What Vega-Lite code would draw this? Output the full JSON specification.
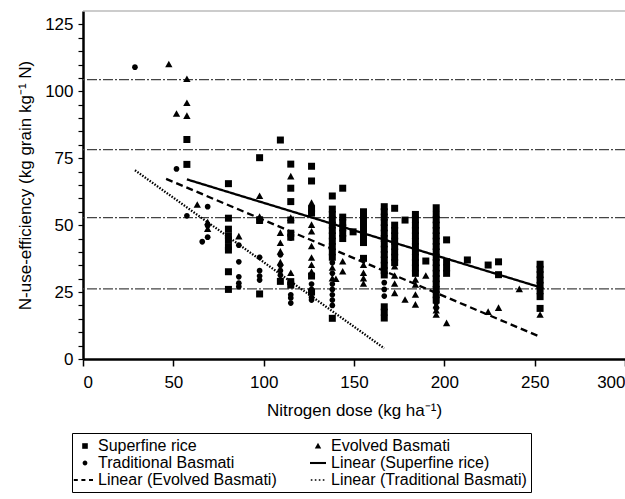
{
 "$schema": "https://vega.github.io/schema/vega-lite/v6.json",
 "width": 542,
 "height": 348,
 "autosize": {"type": "none"},
 "padding": {"left": 83, "top": 11, "right": 0, "bottom": 140},
 "background": "white",
 "config": {
  "view": {"stroke": null},
  "font": "Liberation Sans",
  "axis": {"domainColor": "black", "tickColor": "black", "labelColor": "black", "titleColor": "black", "grid": false,
   "labelFont": "Liberation Sans", "titleFont": "Liberation Sans", "labelFontSize": 17, "titleFontSize": 17, "titleFontWeight": "normal"},
  "axisY": {"labelOverlap": false}
 },
 "datasets": {
  "grid": [{"nue": 26.2}, {"nue": 52.8}, {"nue": 78.2}, {"nue": 104.4}],
  "top": [{"nue": 130}],
  "fits": [
   {"variety": "Linear (Superfine rice)", "dose": 57.5, "nue": 67.1},
   {"variety": "Linear (Superfine rice)", "dose": 253, "nue": 26.8},
   {"variety": "Linear (Evolved Basmati)", "dose": 46, "nue": 67.3},
   {"variety": "Linear (Evolved Basmati)", "dose": 253, "nue": 8.3},
   {"variety": "Linear (Traditional Basmati)", "dose": 28.75, "nue": 70.5},
   {"variety": "Linear (Traditional Basmati)", "dose": 166.75, "nue": 4}
  ],
  "pts": [
   {"variety": "Superfine rice", "dose": 57.5, "nue": 82},
   {"variety": "Superfine rice", "dose": 57.5, "nue": 72.7},
   {"variety": "Superfine rice", "dose": 80.5, "nue": 65.5},
   {"variety": "Superfine rice", "dose": 80.5, "nue": 52.6},
   {"variety": "Superfine rice", "dose": 80.5, "nue": 48.5},
   {"variety": "Superfine rice", "dose": 80.5, "nue": 46},
   {"variety": "Superfine rice", "dose": 80.5, "nue": 44.5},
   {"variety": "Superfine rice", "dose": 80.5, "nue": 42},
   {"variety": "Superfine rice", "dose": 80.5, "nue": 40.7},
   {"variety": "Superfine rice", "dose": 80.5, "nue": 32.6},
   {"variety": "Superfine rice", "dose": 80.5, "nue": 26},
   {"variety": "Superfine rice", "dose": 97.75, "nue": 75.2},
   {"variety": "Superfine rice", "dose": 97.75, "nue": 52},
   {"variety": "Superfine rice", "dose": 97.75, "nue": 24.3},
   {"variety": "Superfine rice", "dose": 109.25, "nue": 81.8},
   {"variety": "Superfine rice", "dose": 109.25, "nue": 29},
   {"variety": "Superfine rice", "dose": 115, "nue": 72.8},
   {"variety": "Superfine rice", "dose": 115, "nue": 63.8},
   {"variety": "Superfine rice", "dose": 115, "nue": 58.8},
   {"variety": "Superfine rice", "dose": 115, "nue": 51.9},
   {"variety": "Superfine rice", "dose": 115, "nue": 47},
   {"variety": "Superfine rice", "dose": 115, "nue": 45.5},
   {"variety": "Superfine rice", "dose": 115, "nue": 28.9},
   {"variety": "Superfine rice", "dose": 115, "nue": 27.6},
   {"variety": "Superfine rice", "dose": 126.5, "nue": 72},
   {"variety": "Superfine rice", "dose": 126.5, "nue": 66.5},
   {"variety": "Superfine rice", "dose": 126.5, "nue": 56},
   {"variety": "Superfine rice", "dose": 126.5, "nue": 54.5},
   {"variety": "Superfine rice", "dose": 126.5, "nue": 31},
   {"variety": "Superfine rice", "dose": 126.5, "nue": 25},
   {"variety": "Superfine rice", "dose": 138, "nue": 60.9},
   {"variety": "Superfine rice", "dose": 138, "nue": 56},
   {"variety": "Superfine rice", "dose": 138, "nue": 54},
   {"variety": "Superfine rice", "dose": 138, "nue": 52},
   {"variety": "Superfine rice", "dose": 138, "nue": 50},
   {"variety": "Superfine rice", "dose": 138, "nue": 48},
   {"variety": "Superfine rice", "dose": 138, "nue": 46},
   {"variety": "Superfine rice", "dose": 138, "nue": 44},
   {"variety": "Superfine rice", "dose": 138, "nue": 42},
   {"variety": "Superfine rice", "dose": 138, "nue": 40},
   {"variety": "Superfine rice", "dose": 138, "nue": 38},
   {"variety": "Superfine rice", "dose": 138, "nue": 15.2},
   {"variety": "Superfine rice", "dose": 143.75, "nue": 63.8},
   {"variety": "Superfine rice", "dose": 143.75, "nue": 53},
   {"variety": "Superfine rice", "dose": 143.75, "nue": 51},
   {"variety": "Superfine rice", "dose": 143.75, "nue": 49},
   {"variety": "Superfine rice", "dose": 143.75, "nue": 47},
   {"variety": "Superfine rice", "dose": 143.75, "nue": 45},
   {"variety": "Superfine rice", "dose": 149.5, "nue": 47.5},
   {"variety": "Superfine rice", "dose": 155.25, "nue": 55},
   {"variety": "Superfine rice", "dose": 155.25, "nue": 53},
   {"variety": "Superfine rice", "dose": 155.25, "nue": 51},
   {"variety": "Superfine rice", "dose": 155.25, "nue": 49},
   {"variety": "Superfine rice", "dose": 155.25, "nue": 47},
   {"variety": "Superfine rice", "dose": 155.25, "nue": 45},
   {"variety": "Superfine rice", "dose": 155.25, "nue": 43.5},
   {"variety": "Superfine rice", "dose": 155.25, "nue": 37.6},
   {"variety": "Superfine rice", "dose": 166.75, "nue": 56.9},
   {"variety": "Superfine rice", "dose": 166.75, "nue": 55},
   {"variety": "Superfine rice", "dose": 166.75, "nue": 53},
   {"variety": "Superfine rice", "dose": 166.75, "nue": 51},
   {"variety": "Superfine rice", "dose": 166.75, "nue": 49},
   {"variety": "Superfine rice", "dose": 166.75, "nue": 47},
   {"variety": "Superfine rice", "dose": 166.75, "nue": 45},
   {"variety": "Superfine rice", "dose": 166.75, "nue": 43},
   {"variety": "Superfine rice", "dose": 166.75, "nue": 41},
   {"variety": "Superfine rice", "dose": 166.75, "nue": 39},
   {"variety": "Superfine rice", "dose": 166.75, "nue": 37},
   {"variety": "Superfine rice", "dose": 166.75, "nue": 35},
   {"variety": "Superfine rice", "dose": 166.75, "nue": 33},
   {"variety": "Superfine rice", "dose": 166.75, "nue": 31.4},
   {"variety": "Superfine rice", "dose": 166.75, "nue": 19.5},
   {"variety": "Superfine rice", "dose": 166.75, "nue": 17.5},
   {"variety": "Superfine rice", "dose": 166.75, "nue": 15.3},
   {"variety": "Superfine rice", "dose": 172.5, "nue": 56.3},
   {"variety": "Superfine rice", "dose": 172.5, "nue": 50},
   {"variety": "Superfine rice", "dose": 172.5, "nue": 48},
   {"variety": "Superfine rice", "dose": 172.5, "nue": 46},
   {"variety": "Superfine rice", "dose": 172.5, "nue": 44},
   {"variety": "Superfine rice", "dose": 172.5, "nue": 42},
   {"variety": "Superfine rice", "dose": 172.5, "nue": 40},
   {"variety": "Superfine rice", "dose": 172.5, "nue": 38},
   {"variety": "Superfine rice", "dose": 172.5, "nue": 36},
   {"variety": "Superfine rice", "dose": 178.25, "nue": 51.9},
   {"variety": "Superfine rice", "dose": 184, "nue": 54},
   {"variety": "Superfine rice", "dose": 184, "nue": 52},
   {"variety": "Superfine rice", "dose": 184, "nue": 50},
   {"variety": "Superfine rice", "dose": 184, "nue": 48},
   {"variety": "Superfine rice", "dose": 184, "nue": 46},
   {"variety": "Superfine rice", "dose": 184, "nue": 44},
   {"variety": "Superfine rice", "dose": 184, "nue": 42},
   {"variety": "Superfine rice", "dose": 184, "nue": 40},
   {"variety": "Superfine rice", "dose": 184, "nue": 38},
   {"variety": "Superfine rice", "dose": 184, "nue": 36},
   {"variety": "Superfine rice", "dose": 184, "nue": 34},
   {"variety": "Superfine rice", "dose": 184, "nue": 32},
   {"variety": "Superfine rice", "dose": 189.75, "nue": 36.6},
   {"variety": "Superfine rice", "dose": 195.5, "nue": 56.5},
   {"variety": "Superfine rice", "dose": 195.5, "nue": 54},
   {"variety": "Superfine rice", "dose": 195.5, "nue": 52},
   {"variety": "Superfine rice", "dose": 195.5, "nue": 50},
   {"variety": "Superfine rice", "dose": 195.5, "nue": 48},
   {"variety": "Superfine rice", "dose": 195.5, "nue": 46},
   {"variety": "Superfine rice", "dose": 195.5, "nue": 44},
   {"variety": "Superfine rice", "dose": 195.5, "nue": 42},
   {"variety": "Superfine rice", "dose": 195.5, "nue": 40},
   {"variety": "Superfine rice", "dose": 195.5, "nue": 38},
   {"variety": "Superfine rice", "dose": 195.5, "nue": 36},
   {"variety": "Superfine rice", "dose": 195.5, "nue": 34},
   {"variety": "Superfine rice", "dose": 195.5, "nue": 32},
   {"variety": "Superfine rice", "dose": 195.5, "nue": 30},
   {"variety": "Superfine rice", "dose": 195.5, "nue": 28},
   {"variety": "Superfine rice", "dose": 195.5, "nue": 26},
   {"variety": "Superfine rice", "dose": 195.5, "nue": 24},
   {"variety": "Superfine rice", "dose": 195.5, "nue": 22},
   {"variety": "Superfine rice", "dose": 201.25, "nue": 44.5},
   {"variety": "Superfine rice", "dose": 201.25, "nue": 36.3},
   {"variety": "Superfine rice", "dose": 201.25, "nue": 34},
   {"variety": "Superfine rice", "dose": 201.25, "nue": 32},
   {"variety": "Superfine rice", "dose": 212.75, "nue": 37},
   {"variety": "Superfine rice", "dose": 224.25, "nue": 35.1},
   {"variety": "Superfine rice", "dose": 230, "nue": 36.3},
   {"variety": "Superfine rice", "dose": 230, "nue": 31.5},
   {"variety": "Superfine rice", "dose": 253, "nue": 35.4},
   {"variety": "Superfine rice", "dose": 253, "nue": 33.5},
   {"variety": "Superfine rice", "dose": 253, "nue": 31.5},
   {"variety": "Superfine rice", "dose": 253, "nue": 29.5},
   {"variety": "Superfine rice", "dose": 253, "nue": 27.5},
   {"variety": "Superfine rice", "dose": 253, "nue": 25.5},
   {"variety": "Superfine rice", "dose": 253, "nue": 23.3},
   {"variety": "Superfine rice", "dose": 253, "nue": 18.9},
   {"variety": "Evolved Basmati", "dose": 47.5, "nue": 110},
   {"variety": "Evolved Basmati", "dose": 51.75, "nue": 91.5},
   {"variety": "Evolved Basmati", "dose": 57.5, "nue": 104.5},
   {"variety": "Evolved Basmati", "dose": 57.5, "nue": 95.5},
   {"variety": "Evolved Basmati", "dose": 57.5, "nue": 90.7},
   {"variety": "Evolved Basmati", "dose": 63.25, "nue": 57.5},
   {"variety": "Evolved Basmati", "dose": 69, "nue": 51},
   {"variety": "Evolved Basmati", "dose": 69, "nue": 48.5},
   {"variety": "Evolved Basmati", "dose": 86.25, "nue": 45.7},
   {"variety": "Evolved Basmati", "dose": 97.75, "nue": 60.8},
   {"variety": "Evolved Basmati", "dose": 97.75, "nue": 53},
   {"variety": "Evolved Basmati", "dose": 97.75, "nue": 51.5},
   {"variety": "Evolved Basmati", "dose": 109.25, "nue": 47},
   {"variety": "Evolved Basmati", "dose": 109.25, "nue": 43.2},
   {"variety": "Evolved Basmati", "dose": 109.25, "nue": 40},
   {"variety": "Evolved Basmati", "dose": 109.25, "nue": 36},
   {"variety": "Evolved Basmati", "dose": 115, "nue": 68.1},
   {"variety": "Evolved Basmati", "dose": 115, "nue": 52.6},
   {"variety": "Evolved Basmati", "dose": 115, "nue": 32},
   {"variety": "Evolved Basmati", "dose": 126.5, "nue": 58.2},
   {"variety": "Evolved Basmati", "dose": 126.5, "nue": 50},
   {"variety": "Evolved Basmati", "dose": 126.5, "nue": 47.5},
   {"variety": "Evolved Basmati", "dose": 126.5, "nue": 42},
   {"variety": "Evolved Basmati", "dose": 126.5, "nue": 37.7},
   {"variety": "Evolved Basmati", "dose": 126.5, "nue": 35},
   {"variety": "Evolved Basmati", "dose": 126.5, "nue": 32.5},
   {"variety": "Evolved Basmati", "dose": 138, "nue": 34},
   {"variety": "Evolved Basmati", "dose": 138, "nue": 30},
   {"variety": "Evolved Basmati", "dose": 140, "nue": 29.8},
   {"variety": "Evolved Basmati", "dose": 143.75, "nue": 36.3},
   {"variety": "Evolved Basmati", "dose": 143.75, "nue": 32.6},
   {"variety": "Evolved Basmati", "dose": 155.25, "nue": 35},
   {"variety": "Evolved Basmati", "dose": 155.25, "nue": 32},
   {"variety": "Evolved Basmati", "dose": 155.25, "nue": 30},
   {"variety": "Evolved Basmati", "dose": 155.25, "nue": 28},
   {"variety": "Evolved Basmati", "dose": 172.5, "nue": 34.5},
   {"variety": "Evolved Basmati", "dose": 172.5, "nue": 31},
   {"variety": "Evolved Basmati", "dose": 172.5, "nue": 28},
   {"variety": "Evolved Basmati", "dose": 172.5, "nue": 24.5},
   {"variety": "Evolved Basmati", "dose": 178.25, "nue": 22},
   {"variety": "Evolved Basmati", "dose": 184, "nue": 29.5},
   {"variety": "Evolved Basmati", "dose": 184, "nue": 27.6},
   {"variety": "Evolved Basmati", "dose": 184, "nue": 23.9},
   {"variety": "Evolved Basmati", "dose": 184, "nue": 20.2},
   {"variety": "Evolved Basmati", "dose": 189.75, "nue": 31},
   {"variety": "Evolved Basmati", "dose": 195.5, "nue": 20},
   {"variety": "Evolved Basmati", "dose": 195.5, "nue": 18},
   {"variety": "Evolved Basmati", "dose": 195.5, "nue": 16.4},
   {"variety": "Evolved Basmati", "dose": 201.25, "nue": 13.3},
   {"variety": "Evolved Basmati", "dose": 224.25, "nue": 17.5},
   {"variety": "Evolved Basmati", "dose": 230, "nue": 19},
   {"variety": "Evolved Basmati", "dose": 241.5, "nue": 26},
   {"variety": "Evolved Basmati", "dose": 253, "nue": 16.4},
   {"variety": "Traditional Basmati", "dose": 28.75, "nue": 109},
   {"variety": "Traditional Basmati", "dose": 51.75, "nue": 71},
   {"variety": "Traditional Basmati", "dose": 57.5, "nue": 53.5},
   {"variety": "Traditional Basmati", "dose": 66, "nue": 43.8},
   {"variety": "Traditional Basmati", "dose": 69, "nue": 56.9},
   {"variety": "Traditional Basmati", "dose": 69, "nue": 49.8},
   {"variety": "Traditional Basmati", "dose": 69, "nue": 45.5},
   {"variety": "Traditional Basmati", "dose": 86.25, "nue": 42.5},
   {"variety": "Traditional Basmati", "dose": 86.25, "nue": 36.3},
   {"variety": "Traditional Basmati", "dose": 86.25, "nue": 30.7},
   {"variety": "Traditional Basmati", "dose": 86.25, "nue": 28.3},
   {"variety": "Traditional Basmati", "dose": 86.25, "nue": 27},
   {"variety": "Traditional Basmati", "dose": 97.75, "nue": 38},
   {"variety": "Traditional Basmati", "dose": 97.75, "nue": 33},
   {"variety": "Traditional Basmati", "dose": 97.75, "nue": 31},
   {"variety": "Traditional Basmati", "dose": 97.75, "nue": 29.5},
   {"variety": "Traditional Basmati", "dose": 109.25, "nue": 38.9},
   {"variety": "Traditional Basmati", "dose": 109.25, "nue": 35},
   {"variety": "Traditional Basmati", "dose": 109.25, "nue": 33},
   {"variety": "Traditional Basmati", "dose": 109.25, "nue": 31.3},
   {"variety": "Traditional Basmati", "dose": 115, "nue": 45.2},
   {"variety": "Traditional Basmati", "dose": 115, "nue": 24},
   {"variety": "Traditional Basmati", "dose": 115, "nue": 22.8},
   {"variety": "Traditional Basmati", "dose": 115, "nue": 20.9},
   {"variety": "Traditional Basmati", "dose": 126.5, "nue": 28},
   {"variety": "Traditional Basmati", "dose": 126.5, "nue": 26},
   {"variety": "Traditional Basmati", "dose": 126.5, "nue": 23},
   {"variety": "Traditional Basmati", "dose": 126.5, "nue": 22},
   {"variety": "Traditional Basmati", "dose": 138, "nue": 36},
   {"variety": "Traditional Basmati", "dose": 138, "nue": 32},
   {"variety": "Traditional Basmati", "dose": 138, "nue": 28},
   {"variety": "Traditional Basmati", "dose": 138, "nue": 26},
   {"variety": "Traditional Basmati", "dose": 138, "nue": 24},
   {"variety": "Traditional Basmati", "dose": 138, "nue": 22},
   {"variety": "Traditional Basmati", "dose": 138, "nue": 20},
   {"variety": "Traditional Basmati", "dose": 166.75, "nue": 28.5},
   {"variety": "Traditional Basmati", "dose": 166.75, "nue": 26},
   {"variety": "Traditional Basmati", "dose": 166.75, "nue": 23.5},
   {"variety": "Traditional Basmati", "dose": 195.5, "nue": 21},
   {"variety": "Traditional Basmati", "dose": 195.5, "nue": 19}
  ]
 },
 "layer": [
  {
   "data": {"name": "grid"},
   "mark": {"type": "rule", "color": "#444", "strokeWidth": 1.2, "strokeDash": [10, 2, 2, 2]},
   "encoding": {
    "y": {"field": "nue", "type": "quantitative", "scale": {"domain": [0, 130], "nice": false}, "title": "N-use-efficiency (kg grain kg⁻¹ N)",
     "axis": {"values": [0,5,10,15,20,25,30,35,40,45,50,55,60,65,70,75,80,85,90,95,100,105,110,115,120,125],
      "labelExpr": "datum.value % 25 === 0 ? datum.label : ''", "labelOverlap": false, "tickSize": 5, "tickWidth": 1.2, "domainWidth": 2.5, "labelPadding": 5, "titlePadding": 10}}
   }
  },
  {
   "data": {"name": "top"},
   "mark": {"type": "rule", "color": "#999", "strokeWidth": 1.2},
   "encoding": {
    "y": {"field": "nue", "type": "quantitative", "title": "N-use-efficiency (kg grain kg⁻¹ N)",
     "axis": {"values": [0,5,10,15,20,25,30,35,40,45,50,55,60,65,70,75,80,85,90,95,100,105,110,115,120,125],
      "labelExpr": "datum.value % 25 === 0 ? datum.label : ''", "labelOverlap": false, "tickSize": 5, "tickWidth": 1.2, "domainWidth": 2.5, "labelPadding": 5, "titlePadding": 10}}
   }
  },
  {
   "data": {"name": "pts"},
   "mark": {"type": "point", "filled": true, "color": "black", "opacity": 1, "strokeWidth": 0},
   "encoding": {
    "x": {"field": "dose", "type": "quantitative", "scale": {"domain": [0, 300], "nice": false},
     "title": "Nitrogen dose (kg ha⁻¹)",
     "axis": {"values": [0, 50, 100, 150, 200, 250, 300], "tickSize": 7, "tickWidth": 1.5, "domainWidth": 2.5, "labelPadding": 8, "titlePadding": 12, "labelFlush": true}},
    "y": {"field": "nue", "type": "quantitative", "scale": {"domain": [0, 130], "nice": false},
     "title": "N-use-efficiency (kg grain kg⁻¹ N)",
     "axis": {"values": [0,5,10,15,20,25,30,35,40,45,50,55,60,65,70,75,80,85,90,95,100,105,110,115,120,125],
      "labelExpr": "datum.value % 25 === 0 ? datum.label : ''", "labelOverlap": false, "tickSize": 5, "tickWidth": 1.2, "domainWidth": 2.5, "labelPadding": 5, "titlePadding": 10}},
    "shape": {"field": "variety", "type": "nominal",
     "scale": {"domain": ["Superfine rice", "Traditional Basmati", "Linear (Evolved Basmati)", "Evolved Basmati", "Linear (Superfine rice)", "Linear (Traditional Basmati)"],
      "range": ["M-0.35,-0.35H0.35V0.35H-0.35Z", "M-0.3,0A0.3,0.3,0,1,1,0.3,0A0.3,0.3,0,1,1,-0.3,0Z", "M-1.4,-0.13H-0.9V0.13H-1.4Z M-0.45,-0.13H0.05V0.13H-0.45Z M0.5,-0.13H1V0.13H0.5Z", "M0,-0.42L0.4,0.3L-0.4,0.3Z", "M-1,-0.13H1V0.13H-1Z", "M-0.9,-0.1H-0.7V0.1H-0.9Z M-0.4,-0.1H-0.2V0.1H-0.4Z M0.1,-0.1H0.3V0.1H0.1Z M0.6,-0.1H0.8V0.1H0.6Z"]},
     "legend": {"title": null, "orient": "none", "legendX": -11, "legendY": 422, "columns": 2, "columnPadding": 30, "rowPadding": -2,
      "padding": 4, "strokeColor": "black", "fillColor": "white", "labelFontSize": 16, "labelFont": "Liberation Sans", "labelColor": "black",
      "labelLimit": 400, "labelOffset": 4, "symbolSize": 256,
      "encode": {"symbols": {"update": {"stroke": {"value": "black"}, "strokeWidth": {"value": 0.5}, "fill": {"value": "black"}, "opacity": {"value": 1}}}}}},
    "size": {"field": "variety", "type": "nominal",
     "scale": {"domain": ["Superfine rice", "Traditional Basmati", "Evolved Basmati"], "range": [400, 336, 225]},
     "legend": null}
   }
  },
  {
   "data": {"name": "fits"},
   "mark": {"type": "line", "color": "black", "strokeWidth": 2.3},
   "encoding": {
    "x": {"field": "dose", "type": "quantitative", "title": "Nitrogen dose (kg ha⁻¹)",
     "axis": {"values": [0, 50, 100, 150, 200, 250, 300], "tickSize": 7, "tickWidth": 1.5, "domainWidth": 2.5, "labelPadding": 8, "titlePadding": 12, "labelFlush": true}},
    "y": {"field": "nue", "type": "quantitative", "title": "N-use-efficiency (kg grain kg⁻¹ N)",
     "axis": {"values": [0,5,10,15,20,25,30,35,40,45,50,55,60,65,70,75,80,85,90,95,100,105,110,115,120,125],
      "labelExpr": "datum.value % 25 === 0 ? datum.label : ''", "labelOverlap": false, "tickSize": 5, "tickWidth": 1.2, "domainWidth": 2.5, "labelPadding": 5, "titlePadding": 10}},
    "strokeDash": {"field": "variety", "type": "nominal",
     "scale": {"domain": ["Linear (Superfine rice)", "Linear (Evolved Basmati)", "Linear (Traditional Basmati)"], "range": [[1, 0], [7, 4], [1.5, 1.5]]},
     "legend": null}
   }
  }
 ]
}
